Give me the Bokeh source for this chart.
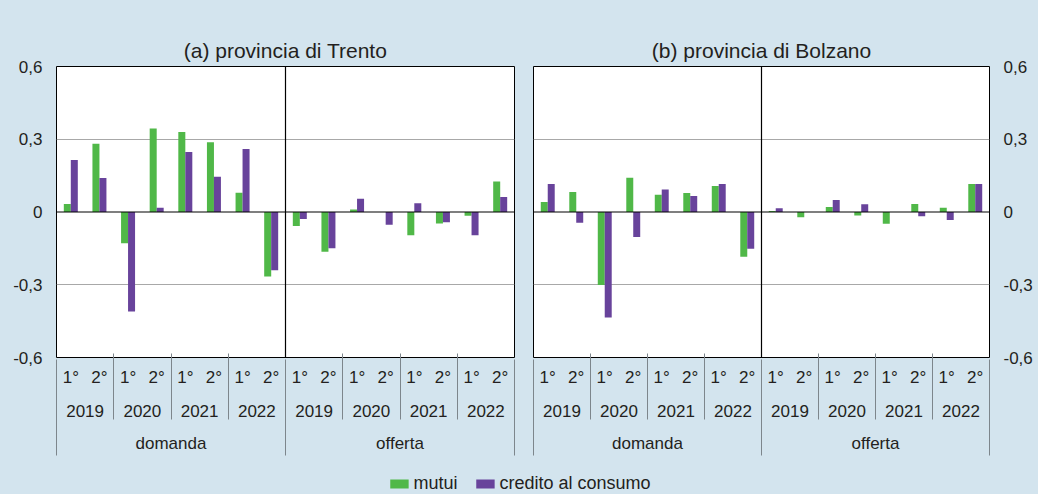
from bokeh.plotting import figure
from bokeh.models import (FactorRange, Range1d, FixedTicker, Span, Legend, LegendItem,
                          CategoricalAxis, LinearAxis, Title)
from bokeh.layouts import column, row
from bokeh.transform import dodge
from bokeh.embed import file_html
from bokeh.resources import INLINE

# ---- data ----
regions = ["domanda", "offerta"]
years = ["2019", "2020", "2021", "2022"]
halves = ["1°", "2°"]
series_names = ["mutui", "credito al consumo"]
panel_titles = ["(a) provincia di Trento", "(b) provincia di Bolzano"]

trento_mutui = [0.033, 0.281, -0.129, 0.344, 0.330, 0.288, 0.079, -0.266,
                -0.058, -0.164, 0.010, 0.0, -0.096, -0.047, -0.015, 0.126]
trento_credito = [0.214, 0.140, -0.410, 0.018, 0.247, 0.145, 0.260, -0.240,
                  -0.029, -0.149, 0.055, -0.053, 0.036, -0.042, -0.096, 0.062]
bolzano_mutui = [0.041, 0.082, -0.301, 0.141, 0.071, 0.078, 0.107, -0.185,
                 0.004, -0.022, 0.021, -0.014, -0.048, 0.033, 0.018, 0.115]
bolzano_credito = [0.115, -0.044, -0.435, -0.103, 0.093, 0.066, 0.115, -0.152,
                   0.015, 0.0, 0.049, 0.032, 0.0, -0.018, -0.033, 0.115]

y_ticks = [-0.6, -0.3, 0, 0.3, 0.6]
y_tick_labels = ["-0,6", "-0,3", "0", "0,3", "0,6"]

# ---- style ----
BG = "#d3e4ee"
GREEN = "#50b848"
PURPLE = "#68439b"
FONT = "Liberation Sans"
TXT = "#231f20"
FS = "17px"
SEP = "#7d868c"

factors = [(r, y, h) for r in regions for y in years for h in halves]
year_factors = [(r, y) for r in regions for y in years]
n_h, n_y, n_r = len(halves), len(years), len(regions)
year_bounds = [i * n_h for i in range(1, n_y * n_r) if i % n_y != 0]
group_bounds = [i * n_h * n_y for i in range(0, n_r + 1)]

FIG_H = 472


def style_cat_axis(ax, standoff):
    ax.axis_line_color = None
    ax.major_tick_line_color = None
    ax.minor_tick_line_color = None
    ax.major_tick_out = 0
    ax.major_tick_in = 0
    ax.major_label_standoff = standoff
    ax.major_label_text_font = FONT
    ax.major_label_text_font_size = FS
    ax.major_label_text_color = TXT
    ax.separator_line_color = None
    for pre in ("group", "subgroup"):
        setattr(ax, pre + "_text_font_size", "0px")
        setattr(ax, pre + "_text_color", None)


def separator_axis(ticks, length):
    # ticks placed at category boundaries (synthetic coordinates of the factor range)
    ax = LinearAxis(ticker=FixedTicker(ticks=ticks))
    ax.axis_line_color = None
    ax.minor_tick_line_color = None
    ax.major_tick_out = 0
    ax.major_tick_in = length
    ax.major_tick_line_color = SEP
    ax.major_tick_line_width = 1
    ax.major_label_standoff = 0
    ax.major_label_text_font_size = "0px"
    ax.major_label_text_color = None
    return ax


def spacer_axis(size):
    # empty axis used only to keep the title away from the frame
    ax = LinearAxis(ticker=FixedTicker(ticks=[]))
    ax.axis_line_color = None
    ax.major_tick_line_color = None
    ax.minor_tick_line_color = None
    ax.major_tick_out = size
    ax.major_tick_in = 0
    ax.major_label_standoff = 0
    ax.major_label_text_font_size = "0px"
    ax.major_label_text_color = None
    return ax


def make_panel(title, mutui, credito, side, width, bl, br):
    p = figure(
        x_range=FactorRange(*factors, factor_padding=0, subgroup_padding=0,
                            group_padding=0, range_padding=0),
        y_range=Range1d(-0.6, 0.6),
        width=width, height=FIG_H,
        output_backend="svg", toolbar_location=None,
        y_axis_location=side, x_axis_location=None,
        min_border_left=bl, min_border_right=br,
        min_border_top=66, min_border_bottom=FIG_H - 66 - 291,
        title=None,
    )
    p.extra_x_ranges = {
        "years": FactorRange(*year_factors, factor_padding=0, group_padding=0, range_padding=0),
        "regions": FactorRange(*regions, factor_padding=0, range_padding=0),
    }
    # spacer nearest the frame, then the panel title further out
    p.add_layout(spacer_axis(27), "above")
    t = Title(text=title, align="center", text_font=FONT, text_font_size="21px",
              text_font_style="normal", text_color=TXT, standoff=10)
    p.add_layout(t, "above")

    p.background_fill_color = "white"
    p.border_fill_color = BG
    p.outline_line_color = "black"
    p.outline_line_width = 1

    src = dict(x=factors, mutui=mutui, credito=credito)
    p.vbar(x=dodge("x", -0.122, range=p.x_range), top="mutui", source=src,
           width=0.245, fill_color=GREEN, line_color=None)
    p.vbar(x=dodge("x", 0.122, range=p.x_range), top="credito", source=src,
           width=0.245, fill_color=PURPLE, line_color=None)

    p.xgrid.visible = False
    p.ygrid.ticker = FixedTicker(ticks=[-0.3, 0.3])
    p.ygrid.grid_line_color = "#a8a8a8"
    p.ygrid.grid_line_width = 1

    p.add_layout(Span(location=0, dimension="width", line_color="black", line_width=1.2))
    p.add_layout(Span(location=group_bounds[1], dimension="height",
                      line_color="black", line_width=1.2))

    # stacked category axes (halves, years, regions) with separator ticks
    ax1 = CategoricalAxis()
    style_cat_axis(ax1, 10)
    ax2 = CategoricalAxis(x_range_name="years")
    style_cat_axis(ax2, 15)
    ax3 = CategoricalAxis(x_range_name="regions")
    style_cat_axis(ax3, 14)
    p.add_layout(ax1, "below")
    p.add_layout(ax2, "below")
    p.add_layout(separator_axis(year_bounds, 66), "below")
    p.add_layout(ax3, "below")
    p.add_layout(separator_axis(group_bounds, 96), "below")

    ya = p.yaxis[0]
    ya.ticker = FixedTicker(ticks=y_ticks)
    ya.major_label_overrides = {t: l for t, l in zip(y_ticks, y_tick_labels)}
    ya.axis_line_color = None
    ya.major_tick_line_color = None
    ya.minor_tick_line_color = None
    ya.major_tick_out = 0
    ya.major_tick_in = 0
    ya.major_label_standoff = 14
    ya.major_label_text_font = FONT
    ya.major_label_text_font_size = FS
    ya.major_label_text_color = TXT
    return p


pa = make_panel(panel_titles[0], trento_mutui, trento_credito, "left", 523, 56, 9)
pb = make_panel(panel_titles[1], bolzano_mutui, bolzano_credito, "right", 515, 10, 49)

# legend strip
lf = figure(width=1038, height=494 - FIG_H, output_backend="svg", toolbar_location=None,
            x_range=Range1d(0, 1), y_range=Range1d(0, 1),
            x_axis_type=None, y_axis_type=None, min_border=0)
lf.background_fill_color = BG
lf.border_fill_color = BG
lf.outline_line_color = None
lf.grid.visible = False
r1 = lf.vbar(x=[0.5], top=[0], bottom=[0], width=0, fill_color=GREEN, line_color=None)
r2 = lf.vbar(x=[0.5], top=[0], bottom=[0], width=0, fill_color=PURPLE, line_color=None)
leg = Legend(items=[LegendItem(label=series_names[0], renderers=[r1]),
                    LegendItem(label=series_names[1], renderers=[r2])],
             orientation="horizontal", location="bottom_center")
leg.label_text_font = FONT
leg.label_text_font_size = "18px"
leg.label_text_color = TXT
leg.glyph_width = 23
leg.glyph_height = 11
leg.label_standoff = 3
leg.spacing = 16
leg.padding = 0
leg.margin = 0
leg.background_fill_alpha = 0
leg.border_line_color = None
lf.add_layout(leg, "center")

layout = column(row(pa, pb, styles={"background-color": BG}), lf,
                styles={"background-color": BG})
open("out.html", "w").write(file_html(layout, INLINE))
